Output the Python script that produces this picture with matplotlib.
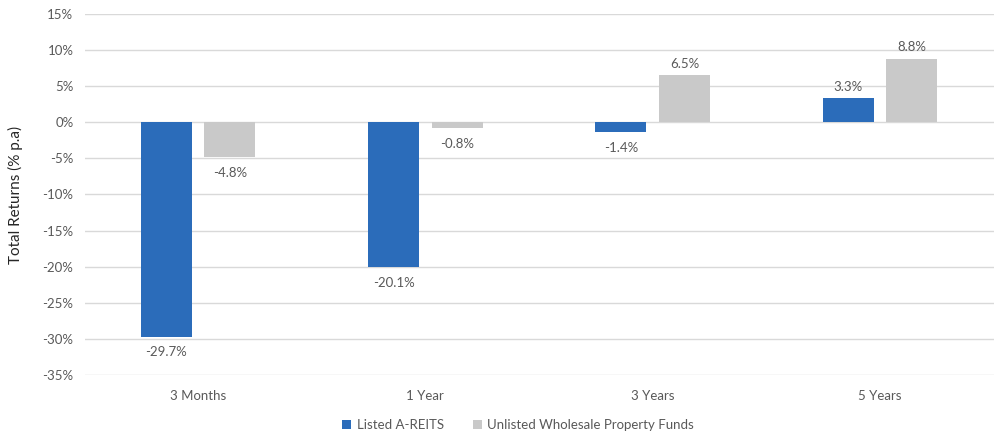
import matplotlib
matplotlib.use("Agg")
import matplotlib.pyplot as plt
import numpy as np

categories = ["3 Months", "1 Year", "3 Years", "5 Years"]
listed = [-29.7, -20.1, -1.4, 3.3]
unlisted = [-4.8, -0.8, 6.5, 8.8]
series_names = ["Listed A-REITS", "Unlisted Wholesale Property Funds"]
yticks = list(range(-35, 20, 5))

plt.rcParams['font.family'] = ['Lato', 'DejaVu Sans']
txt = '#595959'
blue = '#2B6CBA'
gray = '#C9C9C9'

fig = plt.figure(figsize=(10, 4.32), dpi=100)
ax = fig.add_axes([0.0845, 0.132, 0.909, 0.8356])

x = np.arange(len(categories))
w = 0.224
off = 0.14
b1 = ax.bar(x - off, listed, w, color=blue, zorder=3, label=series_names[0])
b2 = ax.bar(x + off, unlisted, w, color=gray, zorder=3, label=series_names[1])

for bars, vals in ((b1, listed), (b2, unlisted)):
    for r, v in zip(bars, vals):
        cx = r.get_x() + r.get_width() / 2
        if v < 0:
            ax.annotate(f"{v:.1f}%", (cx, v), xytext=(0, -7), textcoords='offset points',
                        ha='center', va='top', fontsize=9.5, color=txt)
        else:
            ax.annotate(f"{v:.1f}%", (cx, v), xytext=(0, 4), textcoords='offset points',
                        ha='center', va='bottom', fontsize=9.5, color=txt)

ax.set_xlim(-0.5, len(categories) - 0.5)
ax.set_ylim(-35, 15)
ax.set_yticks(yticks)
ax.set_yticklabels([f"{t}%" for t in yticks])
ax.set_xticks(x)
ax.set_xticklabels(categories)
ax.yaxis.grid(True, color='#D9D9D9', linewidth=1, zorder=0)
for s in ax.spines.values():
    s.set_visible(False)
ax.tick_params(axis='both', length=0, colors=txt, labelsize=9.5)
ax.tick_params(axis='x', pad=11)
ax.tick_params(axis='y', pad=8)
ax.set_ylabel("Total Returns (% p.a)", fontsize=11, color='#262626', labelpad=14)

leg = fig.legend(handles=[b1, b2], loc='lower center', bbox_to_anchor=(0.518, -0.025), ncol=2,
                 frameon=False, fontsize=9.5, handlelength=0.7, handleheight=0.7,
                 handletextpad=0.4, columnspacing=2.2)
for t in leg.get_texts():
    t.set_color(txt)

fig.savefig("out.png", dpi=100)
